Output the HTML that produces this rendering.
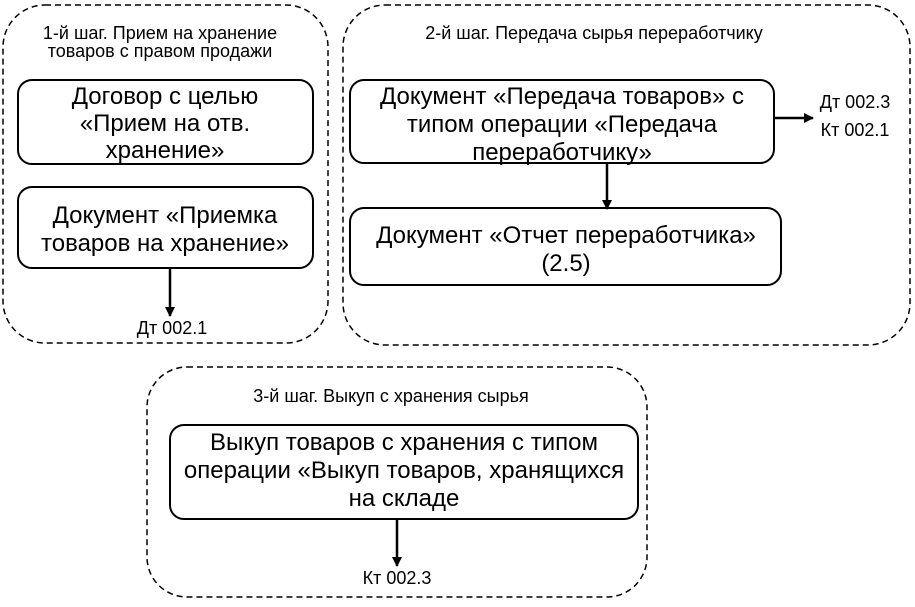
<!DOCTYPE html>
<html><head><meta charset="utf-8"><style>
body{margin:0;background:#fff;}
svg text{font-family:"Liberation Sans",Arial,sans-serif;fill:#000;}
</style></head><body>
<svg width="915" height="602" viewBox="0 0 915 602" xmlns="http://www.w3.org/2000/svg">
<defs><marker id="a" markerWidth="10" markerHeight="10" refX="9" refY="5" orient="auto" markerUnits="userSpaceOnUse"><path d="M0,0 L10,5 L0,10 z" fill="#000"/></marker></defs>
<g fill="none" stroke="#000" stroke-width="1.5" stroke-dasharray="6,4">
<rect x="3" y="5" width="325" height="338" rx="42"/>
<rect x="343" y="5" width="567" height="340" rx="42"/>
<rect x="147" y="367" width="500" height="230" rx="40"/>
</g>
<g fill="#fff" stroke="#000" stroke-width="2">
<rect x="18" y="80" width="295" height="84" rx="14"/>
<rect x="18" y="187" width="295" height="81" rx="14"/>
<rect x="350" y="80" width="424" height="83" rx="14"/>
<rect x="350" y="208" width="431" height="77" rx="14"/>
<rect x="170" y="425" width="468" height="94" rx="14"/>
</g>
<g stroke="#000" stroke-width="2.5" marker-end="url(#a)">
<line x1="170" y1="268" x2="170" y2="316"/>
<line x1="774" y1="118" x2="813" y2="118"/>
<line x1="607" y1="163" x2="607" y2="209"/>
<line x1="397" y1="519" x2="397" y2="566"/>
</g>
<g font-size="18" text-anchor="middle">
<text x="160" y="39">1-й шаг. Прием на хранение</text>
<text x="160" y="57">товаров с правом продажи</text>
<text x="594" y="39">2-й шаг. Передача сырья переработчику</text>
<text x="391" y="402">3-й шаг. Выкуп с хранения сырья</text>
<text x="172" y="334">Дт 002.1</text>
<text x="397" y="584">Кт 002.3</text>
<text x="855" y="108">Дт 002.3</text>
<text x="855" y="136">Кт 002.1</text>
</g>
<g font-size="24" text-anchor="middle">
<text x="165" y="104">Договор с целью</text>
<text x="165" y="131">«Прием на отв.</text>
<text x="165" y="158">хранение»</text>
<text x="165" y="223">Документ «Приемка</text>
<text x="165" y="251">товаров на хранение»</text>
<text x="562" y="104">Документ «Передача товаров» с</text>
<text x="562" y="132">типом операции «Передача</text>
<text x="562" y="160">переработчику»</text>
<text x="566" y="243">Документ «Отчет переработчика»</text>
<text x="566" y="271">(2.5)</text>
<text x="404" y="450">Выкуп товаров с хранения с типом</text>
<text x="404" y="478">операции «Выкуп товаров, хранящихся</text>
<text x="404" y="506">на складе</text>
</g>
</svg>
</body></html>
